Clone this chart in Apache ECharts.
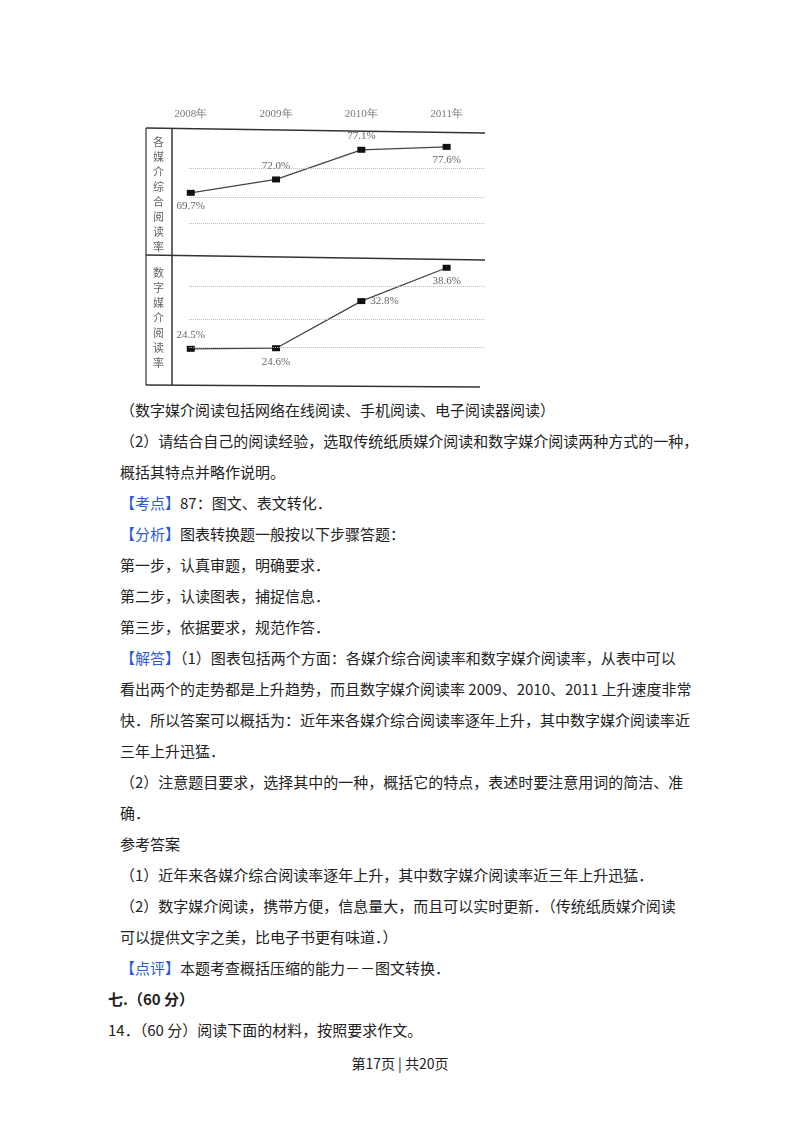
<!DOCTYPE html><html><head><meta charset="utf-8">
<script src="https://cdn.jsdelivr.net/npm/echarts@6/dist/echarts.min.js"></script>
<style>
body{margin:0;width:800px;height:1132px;background:#fff;position:relative;font-family:"Noto Sans CJK SC";color:#222;}
#c{position:absolute;left:130px;top:90px;width:370px;height:305px;}
.l{position:absolute;font-size:15px;white-space:nowrap;line-height:20px;}
.b{color:#2a5bd7;}
</style></head><body>
<div id="c"></div>
<div class="l" style="left:120px;top:400px">（数字媒介阅读包括网络在线阅读、手机阅读、电子阅读器阅读）</div>
<div class="l" style="left:120px;top:431px">（2）请结合自己的阅读经验，选取传统纸质媒介阅读和数字媒介阅读两种方式的一种，</div>
<div class="l" style="left:120px;top:462px">概括其特点并略作说明。</div>
<div class="l" style="left:120px;top:493px"><span class="b">【考点】</span>87：图文、表文转化．</div>
<div class="l" style="left:120px;top:524px"><span class="b">【分析】</span>图表转换题一般按以下步骤答题：</div>
<div class="l" style="left:120px;top:555px">第一步，认真审题，明确要求．</div>
<div class="l" style="left:120px;top:586px">第二步，认读图表，捕捉信息．</div>
<div class="l" style="left:120px;top:617px">第三步，依据要求，规范作答．</div>
<div class="l" style="left:120px;top:648px"><span class="b">【解答】</span>（1）图表包括两个方面：各媒介综合阅读率和数字媒介阅读率，从表中可以</div>
<div class="l" style="left:120px;top:679px">看出两个的走势都是上升趋势，而且数字媒介阅读率 2009、2010、2011 上升速度非常</div>
<div class="l" style="left:120px;top:710px">快．所以答案可以概括为：近年来各媒介综合阅读率逐年上升，其中数字媒介阅读率近</div>
<div class="l" style="left:120px;top:741px">三年上升迅猛．</div>
<div class="l" style="left:120px;top:772px">（2）注意题目要求，选择其中的一种，概括它的特点，表述时要注意用词的简洁、准</div>
<div class="l" style="left:120px;top:803px">确．</div>
<div class="l" style="left:120px;top:834px">参考答案</div>
<div class="l" style="left:120px;top:865px">（1）近年来各媒介综合阅读率逐年上升，其中数字媒介阅读率近三年上升迅猛．</div>
<div class="l" style="left:120px;top:896px">（2）数字媒介阅读，携带方便，信息量大，而且可以实时更新．（传统纸质媒介阅读</div>
<div class="l" style="left:120px;top:927px">可以提供文字之美，比电子书更有味道．）</div>
<div class="l" style="left:120px;top:958px"><span class="b">【点评】</span>本题考查概括压缩的能力－－图文转换．</div>
<div class="l" style="left:108px;top:989px;font-weight:bold">七.（60 分）</div>
<div class="l" style="left:108px;top:1020px">14．（60 分）阅读下面的材料，按照要求作文。</div>
<div class="l" style="left:0;width:800px;text-align:center;top:1053px;font-size:14px">第17页 | 共20页</div>
<script>
const years=[2008,2009,2010,2011];
const overall=[69.7,72.0,77.1,77.6];
const digital=[24.5,24.6,32.8,38.6];
const yearLabels=['2008年','2009年','2010年','2011年'];
const overallGuides=[74.0,69.0,64.4];
const digitalGuides=[35.3,29.6,24.8];
const ch=echarts.init(document.getElementById('c'));
const xa=(i,top)=>({type:'value',gridIndex:i,min:2007.78,max:2011.45,position:'top',
 axisLine:{show:false},axisTick:{show:false},splitLine:{show:false},
 axisLabel:{show:top,customValues:years,formatter:v=>yearLabels[years.indexOf(Math.round(v))],color:'#777',fontSize:11,fontFamily:'Liberation Serif',margin:10}});
const ya=(i,mn,mx)=>({type:'value',gridIndex:i,min:mn,max:mx,show:false});
const mk=(d,i,pos)=>({type:'line',xAxisIndex:i,yAxisIndex:i,data:years.map((y,k)=>[y,d[k]]),
 symbol:'rect',symbolSize:[8,6],itemStyle:{color:'#111'},lineStyle:{color:'#444',width:1.3},
 label:{show:true,formatter:p=>p.value[1].toFixed(1)+'%',position:pos,color:'#666',fontSize:11,fontFamily:'Liberation Serif',
  offset:[0,0]},
 markLine:{silent:true,symbol:'none',label:{show:false},lineStyle:{color:'#bbb',type:'dotted',width:1},
  data:(i?digitalGuides:overallGuides).map(v=>[{coord:[2007.98,v]},{coord:[2011.45,v]}])}});
const s1=mk(overall,0,'top'); s1.label.position=null;
s1.data=s1.data.map((p,k)=>({value:p,label:{position:['bottom','top','top','bottom'][k]}}));
const s2=mk(digital,1,'top');
s2.data=s2.data.map((p,k)=>({value:p,label:{position:['top','bottom','right','bottom'][k]}}));
ch.setOption({animation:false,
 grid:[{left:42,right:15,top:40,height:128},{left:42,right:15,top:168,height:127}],
 xAxis:[xa(0,true),xa(1,false)],yAxis:[ya(0,58.5,80.5),ya(1,18.2,40.3)],
 series:[s1,s2],
 graphic:[
  {type:'line',shape:{x1:16,y1:38,x2:355,y2:43},style:{stroke:'#333',lineWidth:1.5}},
  {type:'line',shape:{x1:16,y1:165,x2:355,y2:170},style:{stroke:'#333',lineWidth:1.5}},
  {type:'line',shape:{x1:16,y1:295,x2:350,y2:297},style:{stroke:'#333',lineWidth:1.5}},
  {type:'line',shape:{x1:16,y1:38,x2:16,y2:295},style:{stroke:'#333',lineWidth:1.2}},
  {type:'line',shape:{x1:42,y1:38,x2:42,y2:295},style:{stroke:'#333',lineWidth:1.5}},
  {type:'text',x:23,y:44,style:{text:'各\n媒\n介\n综\n合\n阅\n读\n率',fill:'#666',fontSize:11,lineHeight:15,fontFamily:'Noto Sans CJK SC'}},
  {type:'text',x:23,y:175,style:{text:'数\n字\n媒\n介\n阅\n读\n率',fill:'#666',fontSize:11,lineHeight:15,fontFamily:'Noto Sans CJK SC'}}
 ]});
</script></body></html>
